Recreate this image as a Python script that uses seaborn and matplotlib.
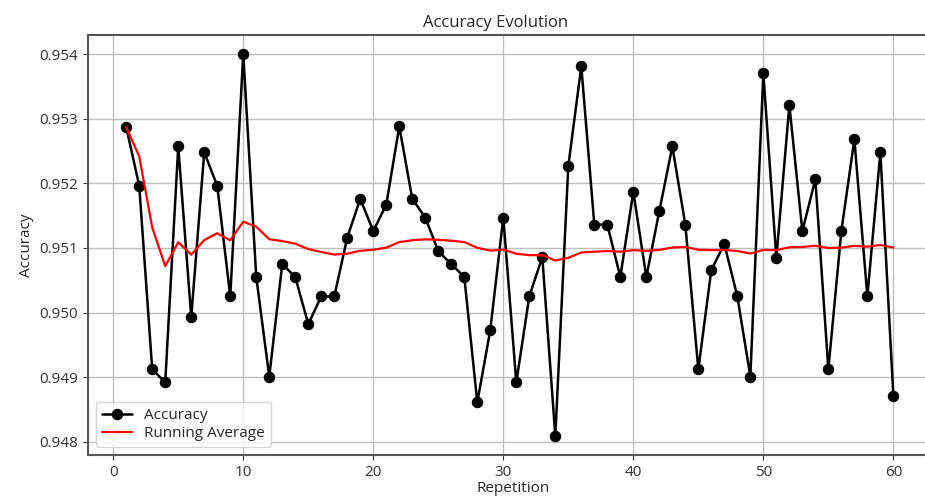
import numpy as np
import pandas as pd
import matplotlib.pyplot as plt
import seaborn as sns

# Accuracy per repetition
repetitions = list(range(1, 61))
accuracy = [
    0.95287, 0.95196, 0.94912, 0.94892, 0.95257, 0.94993, 0.95248, 0.95196, 0.95025, 0.95400,
    0.95055, 0.94901, 0.95075, 0.95055, 0.94982, 0.95025, 0.95025, 0.95116, 0.95176, 0.95126,
    0.95167, 0.95288, 0.95176, 0.95147, 0.95095, 0.95075, 0.95055, 0.94861, 0.94973, 0.95147,
    0.94892, 0.95025, 0.95086, 0.94809, 0.95227, 0.95381, 0.95136, 0.95136, 0.95055, 0.95187,
    0.95055, 0.95157, 0.95257, 0.95136, 0.94912, 0.95066, 0.95106, 0.95025, 0.94901, 0.95370,
    0.95084, 0.95321, 0.95126, 0.95206, 0.94912, 0.95126, 0.95268, 0.95025, 0.95248, 0.94871,
]

data = pd.DataFrame({'Repetition': repetitions, 'Accuracy': accuracy})
data['Running Average'] = data['Accuracy'].expanding().mean()

sns.set_style('ticks')
plt.rcParams['font.family'] = ['Open Sans', 'DejaVu Sans']

fig = plt.figure(figsize=(9.25, 4.99), dpi=100)
# the original picture is cut off on the right, so the axes run past the edge
ax = fig.add_axes([0.095, 0.088, 0.92, 0.842])

sns.lineplot(data=data, x='Repetition', y='Accuracy', color='black', marker='o',
             markersize=7.5, linewidth=1.8, markeredgecolor='black', label='Accuracy', ax=ax)
sns.lineplot(data=data, x='Repetition', y='Running Average', color='red',
             linewidth=1.6, label='Running Average', ax=ax)

ax.set_xlim(-1.95, 63.5)
ax.set_title('Accuracy Evolution', fontsize=12, x=0.4795)
ax.set_xlabel('Repetition', fontsize=11, labelpad=1)
ax.set_ylabel('Accuracy', fontsize=11)
ax.set_xticks([0, 10, 20, 30, 40, 50, 60])
ax.yaxis.set_major_formatter(plt.FormatStrFormatter('%.3f'))
ax.tick_params(labelsize=11, colors='#333333')
ax.grid(True, color='#bebebe', linewidth=1)
for s in ax.spines.values():
    s.set_color('#555555')
    s.set_linewidth(1.5)
ax.legend(loc='lower left', fontsize=11, handlelength=2, borderpad=0.4, labelspacing=0.2)

plt.savefig('out.png', dpi=100)
plt.close()
